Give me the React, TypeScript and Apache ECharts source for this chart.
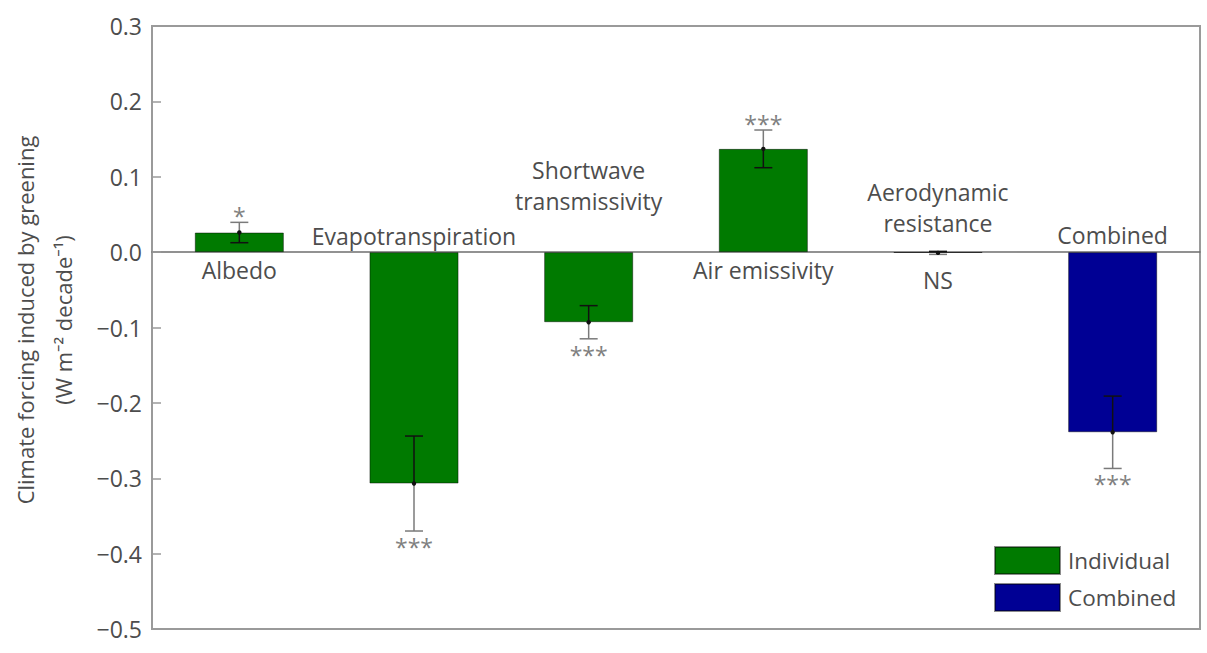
import React, { useEffect, useRef } from "react";
import * as echarts from "echarts";

const CATEGORIES = [
  "Albedo",
  "Evapotranspiration",
  "Shortwave\ntransmissivity",
  "Air emissivity",
  "Aerodynamic\nresistance",
  "Combined",
];
const GROUPS = ["Individual", "Individual", "Individual", "Individual", "Individual", "Combined"];
const VALUES = [0.026, -0.307, -0.093, 0.137, -0.001, -0.239];
const ERRORS = [0.0135, 0.063, 0.022, 0.025, 0.002, 0.048];
const SIGNIF = ["*", "***", "***", "***", "NS", "***"];
const SERIES_NAMES = ["Individual", "Combined"];

// layout only: vertical offset (px) of each category label from the zero line
const LABEL_DY = [18, -16, -67, 18, -45, -17];

const FONT = "'Open Sans', 'Noto Sans', sans-serif";
const TEXT = "#4d4d4d";
const COLORS: Record<string, string> = { Individual: "#007a00", Combined: "#000094" };

export default function App() {
  const ref = useRef<HTMLDivElement>(null);
  useEffect(() => {
    if (!ref.current) return;
    const chart = echarts.init(ref.current, undefined, { renderer: "svg" });
    const fmt = (v: number) => (v < -1e-9 ? "\u2212" : "") + Math.abs(v).toFixed(1);
    const barSeries = SERIES_NAMES.map((name) => ({
      name,
      type: "bar",
      barWidth: "51%",
      barGap: "-100%",
      data: VALUES.map((v, i) => (GROUPS[i] === name ? v : "-")),
      itemStyle: { color: COLORS[name], borderColor: "rgba(0,0,0,0.45)", borderWidth: 1 },
    }));
    const option: any = {
      animation: false,
      grid: {
        left: 152,
        right: 7,
        top: 26,
        bottom: 24,
        show: true,
        borderColor: "#9a9a9a",
        borderWidth: 2,
        backgroundColor: "transparent",
      },
      legend: {
        data: SERIES_NAMES,
        orient: "vertical",
        left: 989,
        top: 541,
        itemWidth: 65,
        itemHeight: 27,
        itemGap: 8,
        icon: "rect",
        textStyle: { fontSize: 22.5, color: TEXT, fontFamily: FONT, padding: [0, 0, 0, 3] },
      },
      xAxis: {
        type: "category",
        data: CATEGORIES,
        axisLine: { onZero: true, lineStyle: { color: "#6e6e6e", width: 1.5 } },
        axisTick: { show: false },
        axisLabel: { show: false },
        splitLine: { show: false },
      },
      yAxis: {
        type: "value",
        min: -0.5,
        max: 0.3,
        interval: 0.1,
        axisLine: { show: false },
        axisTick: { show: true, inside: true, length: 9, lineStyle: { color: "#9a9a9a", width: 1.5 } },
        splitLine: { show: false },
        axisLabel: {
          formatter: fmt,
          fontSize: 23,
          color: TEXT,
          fontFamily: FONT,
          margin: 10,
        },
      },
      graphic: [
        {
          type: "text",
          x: 44,
          y: 320,
          rotation: Math.PI / 2,
          style: {
            text: "Climate forcing induced by greening\n(W m\u207B\u00B2 decade\u207B\u00B9)",
            fontSize: 22,
            fontFamily: FONT,
            fill: TEXT,
            align: "center",
            verticalAlign: "middle",
            lineHeight: 38,
          },
        },
      ],
      series: [
        ...barSeries,
        {
          type: "custom",
          name: "errors",
          silent: true,
          clip: false,
          z: 10,
          data: VALUES.map((v, i) => [i, v, ERRORS[i]]),
          renderItem: (params: any, api: any) => {
            const i = api.value(0);
            const v = api.value(1);
            const e = api.value(2);
            const c = api.coord([i, v]);
            const hi = api.coord([i, v + e]);
            const lo = api.coord([i, v - e]);
            const z = api.coord([i, 0]);
            const x = c[0];
            const outer = v >= 0 ? hi : lo;
            const inner = v >= 0 ? lo : hi;
            const hw = 9;
            const grey = "#7a7a7a";
            const black = "#111";
            const children: any[] = [
              { type: "line", shape: { x1: x, y1: c[1], x2: x, y2: outer[1] }, style: { stroke: grey, lineWidth: 1.5 } },
              { type: "line", shape: { x1: x - hw, y1: outer[1], x2: x + hw, y2: outer[1] }, style: { stroke: grey, lineWidth: 1.5 } },
              { type: "line", shape: { x1: x, y1: c[1], x2: x, y2: inner[1] }, style: { stroke: black, lineWidth: 1.5 } },
              { type: "line", shape: { x1: x - hw, y1: inner[1], x2: x + hw, y2: inner[1] }, style: { stroke: black, lineWidth: 1.5 } },
              { type: "circle", shape: { cx: x, cy: c[1], r: 2.2 }, style: { fill: black } },
            ];
            const sig = SIGNIF[i];
            const sy = v >= 0 ? hi[1] - 6 : lo[1] + (sig === "NS" ? 26 : 16);
            children.push({
              type: "text",
              style: {
                text: sig,
                x,
                y: sy,
                align: "center",
                verticalAlign: "middle",
                fontSize: sig === "NS" ? 23 : 23,
                fontFamily: FONT,
                fill: sig === "NS" ? TEXT : "#808080",
              },
            });
            children.push({
              type: "text",
              style: {
                text: CATEGORIES[i],
                x,
                y: z[1] + LABEL_DY[i],
                align: "center",
                verticalAlign: "middle",
                fontSize: 23,
                lineHeight: 31,
                fontFamily: FONT,
                fill: TEXT,
              },
            });
            return { type: "group", children };
          },
        },
      ],
    };
    chart.setOption(option);
    return () => chart.dispose();
  }, []);
  return <div ref={ref} style={{ position: "fixed", left: 0, top: 0, width: 1207, height: 653, background: "#fff" }} />;
}
